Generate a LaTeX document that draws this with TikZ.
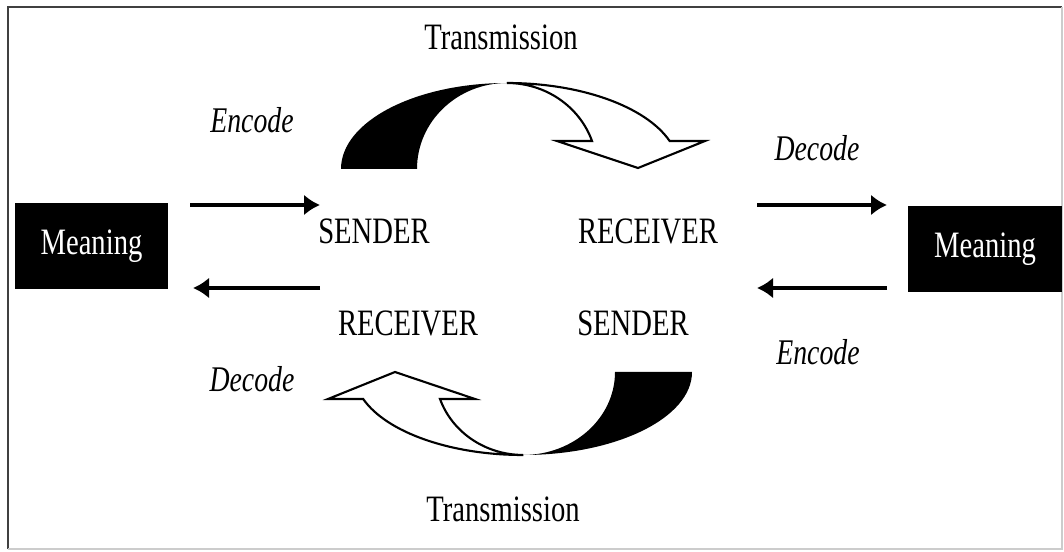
\documentclass[tikz,border=0pt]{standalone}
\usepackage{fontspec}
\setmainfont{Liberation Serif}
\usetikzlibrary{arrows.meta}

% the printed text is set narrow and tall
\newcommand{\tall}[1]{\scalebox{1}[1.3]{#1}}

\begin{document}
\begin{tikzpicture}[x=0.02cm, y=0.02cm, >={Latex[length=3.2mm, width=4.2mm]},
  lbl/.style={font=\fontsize{16.3}{19}\selectfont, inner sep=0pt},
  ilbl/.style={font=\fontsize{15.8}{19}\selectfont\itshape, inner sep=0pt},
  meaning/.style={fill=black, text=white, inner sep=0pt, minimum width=3.07cm,
    minimum height=1.72cm, font=\fontsize{16.3}{19}\selectfont},
  flow/.style={->, line width=2.8pt},
  band/.style={line width=1.2pt, line join=miter}]

\useasboundingbox (0,0) rectangle (1064,551);

% =================================================================================
% frame
% =================================================================================
\draw[black!75, line width=1.6pt] (8,2) -- (8,544) -- (1062,544);
\draw[black!20, line width=1pt] (1062,544) -- (1062,2) -- (8,2);

% =================================================================================
% the two sides
% =================================================================================
\node[meaning] (mL) at (91.5,305) {\tall{Meaning}};
\node[meaning] (mR) at (985,302) {\tall{Meaning}};

\node[lbl] (sTop) at (374,320) {\tall{SENDER}};
\node[lbl] (rTop) at (648,320) {\tall{RECEIVER}};
\node[lbl] (rBot) at (408,228) {\tall{RECEIVER}};
\node[lbl] (sBot) at (633,228) {\tall{SENDER}};

\node[ilbl] (encL) at (252,431) {\tall{Encode}};
\node[ilbl] (decR) at (817,403) {\tall{Decode}};
\node[ilbl] (encR) at (818,199) {\tall{Encode}};
\node[ilbl] (decL) at (252,172) {\tall{Decode}};

\node[lbl] (trTop) at (501,514) {\tall{Transmission}};
\node[lbl] (trBot) at (503,42) {\tall{Transmission}};

% ends of the straight arrows
\coordinate (lo1) at (190,346);
\coordinate (li1) at (320,346);
\coordinate (li2) at (320,263);
\coordinate (lo2) at (193,263);
\coordinate (ri1) at (757,346);
\coordinate (ro1) at (887,346);
\coordinate (ro2) at (887,263);
\coordinate (ri2) at (757,263);

\draw[flow] (lo1) -- (li1);
\draw[flow] (li2) -- (lo2);
\draw[flow] (ri1) -- (ro1);
\draw[flow] (ro2) -- (ri2);

% =================================================================================
% transmission, top: black tail, open head
% =================================================================================
\fill[black] (341,382) arc[start angle=180, end angle=90, x radius=166, y radius=86]
  arc[start angle=90, end angle=180, x radius=90, y radius=86] -- cycle;
\draw[band, fill=white] (507,468)
  arc[start angle=90, end angle=19, x radius=172, y radius=86]
  -- (705,410) -- (638,383) -- (557,410) -- (592,410)
  arc[start angle=19, end angle=90, x radius=90, y radius=86] -- cycle;

% =================================================================================
% transmission, bottom: the same turned round
% =================================================================================
\fill[black] (692,179) arc[start angle=0, end angle=-90, x radius=169, y radius=83]
  arc[start angle=-90, end angle=0, x radius=92, y radius=83] -- cycle;
\draw[band, fill=white] (523,96)
  arc[start angle=270, end angle=199, x radius=169, y radius=83]
  -- (328,152) -- (395,179) -- (475,152) -- (440,152)
  arc[start angle=199, end angle=270, x radius=88, y radius=83] -- cycle;

\end{tikzpicture}
\end{document}
